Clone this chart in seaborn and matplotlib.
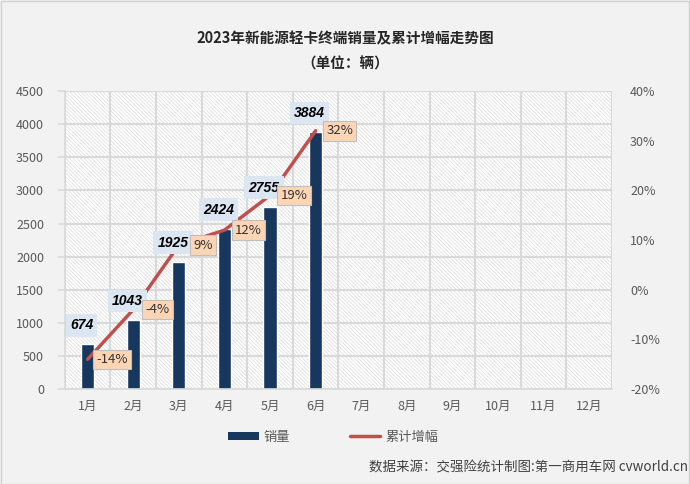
import numpy as np
import pandas as pd
import matplotlib
matplotlib.use("Agg")
import matplotlib.pyplot as plt
import seaborn as sns
from matplotlib.patches import Rectangle, Patch
from matplotlib.lines import Line2D
from matplotlib.ticker import FuncFormatter, MultipleLocator

# Data
months = ['1月', '2月', '3月', '4月', '5月', '6月',
          '7月', '8月', '9月', '10月', '11月', '12月']
sales = [674, 1043, 1925, 2424, 2755, 3884]
growth = [-14, -4, 9, 12, 19, 32]

title = '2023年新能源轻卡终端销量及累计增幅走势图\n（单位：辆）'
source = '数据来源：交强险统计制图:第一商用车网 cvworld.cn'

df = pd.DataFrame({'month': months[:len(sales)], 'sales': sales})

sns.set_style('white')
plt.rcParams['font.family'] = ['Noto Sans CJK SC', 'DejaVu Sans']
plt.rcParams['hatch.linewidth'] = 0.5
plt.rcParams['hatch.color'] = '#dadada'

bg = '#f2f2f2'
grid_c = '#d9d9d9'
tick_c = '#595959'
bar_c = '#17375e'
line_c = '#c0504d'

fig = plt.figure(figsize=(6.9, 4.84), dpi=100, facecolor=bg)
ax = fig.add_axes([0.094, 0.196, 0.793, 0.616])
ax.set_facecolor('white')

# hatched plot area
ax.add_patch(Rectangle((0, 0), 1, 1, transform=ax.transAxes, facecolor='white',
                       edgecolor='#dadada', hatch='\\' * 9, lw=0, zorder=0))

sns.barplot(data=df, x='month', y='sales', order=months, color=bar_c,
            width=0.29, saturation=1, ax=ax, zorder=2)

ax.set_xlim(-0.5, len(months) - 0.5)
ax.set_ylim(0, 4500)
ax.yaxis.set_major_locator(MultipleLocator(500))
ax.set_xticks(np.arange(-0.5, len(months), 1), minor=True)
ax.set_axisbelow(True)
ax.grid(False)
ax.yaxis.grid(True, color=grid_c, lw=1.5)
ax.xaxis.grid(True, which='minor', color=grid_c, lw=1.5)
ax.set_xlabel('')
ax.set_ylabel('')
for s in ['top', 'right']:
    ax.spines[s].set_visible(False)
for s in ['left', 'bottom']:
    ax.spines[s].set_color(grid_c)
    ax.spines[s].set_linewidth(1.2)
ax.tick_params(axis='x', which='major', length=0, colors=tick_c, labelsize=9, pad=8)
ax.tick_params(axis='x', which='minor', length=5, color=grid_c, width=1.2)
ax.tick_params(axis='y', length=5, color=grid_c, width=1.2, colors=tick_c,
               labelsize=9, pad=10)

# cumulative growth line on the right axis
ax2 = ax.twinx()
sns.lineplot(x=np.arange(len(growth)), y=growth, color=line_c, lw=2.5, ax=ax2,
             zorder=3)
ax2.set_ylim(-20, 40)
ax2.yaxis.set_major_locator(MultipleLocator(10))
ax2.yaxis.set_major_formatter(FuncFormatter(lambda v, p: f'{v:.0f}%'))
ax2.tick_params(axis='y', length=0, colors=tick_c, labelsize=9, pad=13)
for s in ax2.spines.values():
    s.set_visible(False)
ax2.grid(False)

# labels
for i, v in enumerate(sales):
    ax2.annotate(f'{v}', xy=(i, v), xycoords=ax.transData,
                 xytext=(-6, 19), textcoords='offset pixels',
                 ha='center', va='center', fontsize=10, fontweight='bold',
                 fontstyle='italic', family='Liberation Sans', color='black',
                 bbox=dict(boxstyle='square,pad=0.3', fc='#dce6f2', ec='none'),
                 zorder=5)
for i, g in enumerate(growth):
    ax2.annotate(f'{g}%', xy=(i, g), xytext=(24, 0), textcoords='offset pixels',
                 ha='center', va='center', fontsize=9.5, color='#333333',
                 bbox=dict(boxstyle='square,pad=0.25', fc='#fcd5b5', ec='#bfbfbf',
                           lw=0.8),
                 zorder=6)

fig.text(0.5, 0.895, title, ha='center', va='center', fontsize=10.5,
         fontweight='bold', color='#262626', linespacing=1.7)

handles = [Patch(facecolor=bar_c, edgecolor='none'),
           Line2D([0], [0], color=line_c, lw=2.5)]
leg = fig.legend(handles, ['销量', '累计增幅'], loc='center',
                 bbox_to_anchor=(0.483, 0.097), ncol=2, frameon=False,
                 columnspacing=4.5, handlelength=2.3, handleheight=0.5,
                 handletextpad=0.4, fontsize=9.5, labelcolor=tick_c)

fig.text(0.997, 0.035, source, ha='right', va='center', fontsize=9.7,
         color='#404040')

fig.patches.append(Rectangle((0.001, 0.001), 0.998, 0.997, transform=fig.transFigure,
                             fill=False, ec='#d0d0d0', lw=1))

fig.savefig('out.png', dpi=100, facecolor=bg)
